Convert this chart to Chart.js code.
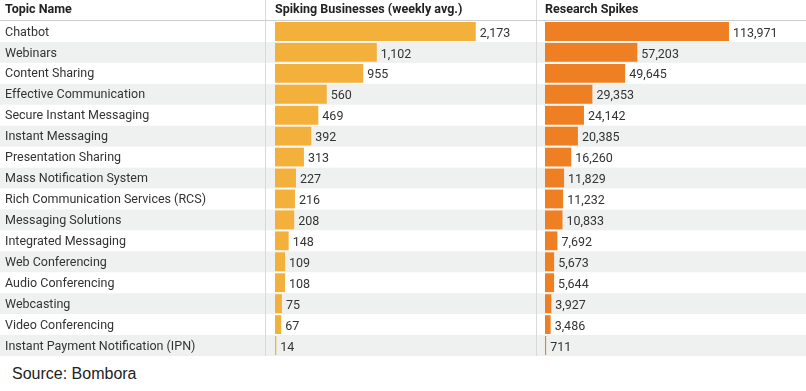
<!DOCTYPE html>
<html lang="en">
<head>
  <meta charset="UTF-8">
  <title>Topic Spikes</title>
  <style>
    body {
      margin: 0;
      background: #fff;
      font-family: Roboto, Arial, sans-serif;
    }

    #wrap {
      position: relative;
      width: 806px;
      height: 391px;
    }

    canvas {
      position: absolute;
      top: 0;
    }

    #chartA { left: 0; }
    #chartB { left: 536px; }

    #source {
      position: absolute;
      left: 12px;
      top: 365px;
      font-family: "Liberation Sans", Arial, sans-serif;
      font-size: 16px;
      color: #222;
    }
  </style>
</head>
<body>
  <div id="wrap">
    <canvas id="chartA" width="536" height="364"></canvas>
    <canvas id="chartB" width="270" height="364"></canvas>
    <div id="source">Source: Bombora</div>
  </div>

  <script src="https://cdn.jsdelivr.net/npm/chart.js"></script>
  <script>
    const topics = [
      'Chatbot', 'Webinars', 'Content Sharing', 'Effective Communication',
      'Secure Instant Messaging', 'Instant Messaging', 'Presentation Sharing',
      'Mass Notification System', 'Rich Communication Services (RCS)',
      'Messaging Solutions', 'Integrated Messaging', 'Web Conferencing',
      'Audio Conferencing', 'Webcasting', 'Video Conferencing',
      'Instant Payment Notification (IPN)'
    ];
    const spikingBusinesses = [2173, 1102, 955, 560, 469, 392, 313, 227, 216, 208, 148, 109, 108, 75, 67, 14];
    const researchSpikes = [113971, 57203, 49645, 29353, 24142, 20385, 16260, 11829, 11232, 10833, 7692, 5673, 5644, 3927, 3486, 711];

    const headerFont = 'bold 12.5px Roboto, Arial, sans-serif';
    const valueFont = '12.5px Roboto, Arial, sans-serif';

    // stripes, header and column rules go under the axis labels and bars
    const tablePlugin = {
      id: 'table',
      beforeDraw(chart, args, opts) {
        const ctx = chart.ctx;
        const y = chart.scales.y;
        const band = (y.bottom - y.top) / topics.length;
        ctx.save();
        ctx.fillStyle = '#eff1f0';
        topics.forEach((t, i) => {
          if (i % 2 === 1) {
            const c = y.getPixelForValue(i);
            ctx.fillRect(0, c - band / 2, chart.width, band);
          }
        });
        ctx.strokeStyle = '#d9d9d9';
        ctx.lineWidth = 1;
        opts.rules.forEach(x => {
          ctx.beginPath();
          ctx.moveTo(x, 0);
          ctx.lineTo(x, y.bottom);
          ctx.stroke();
        });
        ctx.strokeStyle = '#cfcfcf';
        ctx.beginPath();
        ctx.moveTo(0, y.top - 0.5);
        ctx.lineTo(chart.width, y.top - 0.5);
        ctx.stroke();
        ctx.fillStyle = '#222';
        ctx.font = headerFont;
        ctx.textBaseline = 'middle';
        opts.headers.forEach(h => ctx.fillText(h.text, h.x, 10));
        ctx.restore();
      },
      afterDatasetsDraw(chart) {
        const ctx = chart.ctx;
        const meta = chart.getDatasetMeta(0);
        const data = chart.data.datasets[0].data;
        ctx.save();
        ctx.fillStyle = '#333';
        ctx.font = valueFont;
        ctx.textBaseline = 'middle';
        meta.data.forEach((bar, i) => {
          ctx.fillText(data[i].toLocaleString('en-US'), bar.x + 4, bar.y + 2);
        });
        ctx.restore();
      }
    };

    function makeChart(id, values, color, max, opts) {
      return new Chart(document.getElementById(id), {
        type: 'bar',
        data: {
          labels: topics,
          datasets: [{
            data: values,
            backgroundColor: color,
            categoryPercentage: 1,
            barPercentage: 0.9
          }]
        },
        options: {
          indexAxis: 'y',
          responsive: false,
          devicePixelRatio: 1,
          animation: false,
          layout: { padding: { top: 21, bottom: 8, left: opts.padLeft, right: 0 } },
          plugins: {
            legend: { display: false },
            tooltip: { enabled: false },
            table: opts.table
          },
          scales: {
            x: {
              display: false,
              min: 0,
              max: max
            },
            y: {
              display: opts.showTopics,
              grid: { display: false },
              border: { display: false },
              ticks: {
                autoSkip: false,
                crossAlign: 'far',
                color: '#333',
                font: { family: 'Roboto', size: 12.5 },
                padding: 0,
                labelOffset: 1
              },
              afterFit(scale) {
                if (opts.showTopics) scale.width = 270;
              }
            }
          }
        },
        plugins: [tablePlugin]
      });
    }

    makeChart('chartA', spikingBusinesses, '#f3b03b', 2825, {
      padLeft: 5,
      showTopics: true,
      table: {
        rules: [265.5],
        headers: [
          { text: 'Topic Name', x: 5 },
          { text: 'Spiking Businesses (weekly avg.)', x: 275 }
        ]
      }
    });

    makeChart('chartB', researchSpikes, '#ee7f22', 161700, {
      padLeft: 9,
      showTopics: false,
      table: {
        rules: [0.5],
        headers: [{ text: 'Research Spikes', x: 9 }]
      }
    });
  </script>
</body>
</html>
